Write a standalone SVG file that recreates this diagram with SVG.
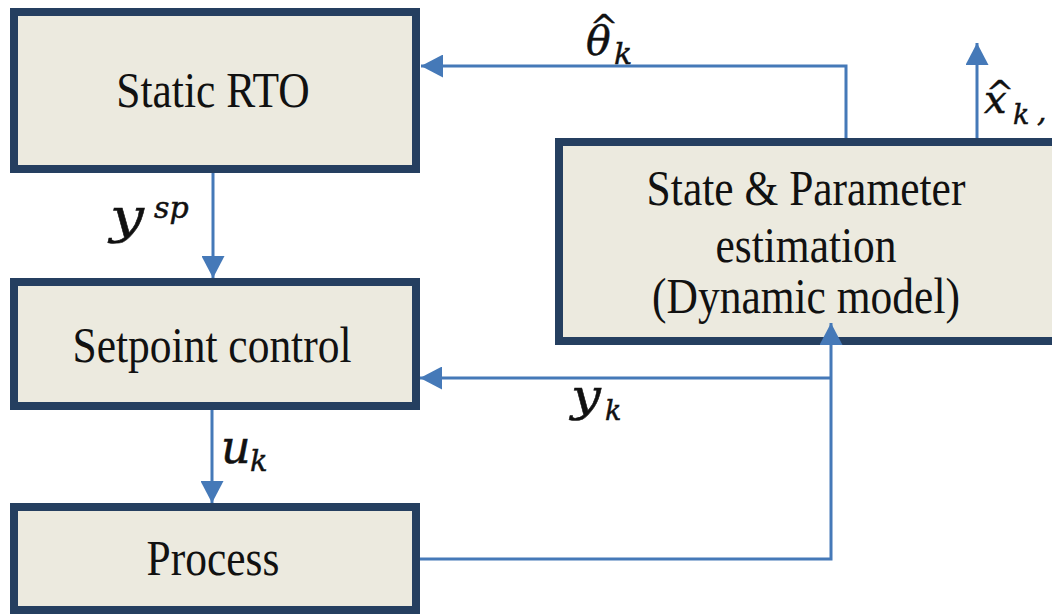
<svg xmlns="http://www.w3.org/2000/svg" width="1052" height="614" viewBox="0 0 1052 614">
<style>
.box{fill:#ECEADF;stroke:#253F60;stroke-width:8}
.lbl{font-family:"Liberation Serif","Times New Roman",serif;font-size:43.5px;fill:#111;text-anchor:middle}
.conn{fill:none;stroke:#4579B8;stroke-width:3}
.m{font-family:"DejaVu Serif","Liberation Serif",serif;font-style:italic;fill:#111;stroke:#111;stroke-width:0.5}
.hat{font-family:"DejaVu Serif","Liberation Serif",serif;fill:#111;text-anchor:middle;stroke:#111;stroke-width:0.4}
</style>
<defs>
<marker id="ah" markerUnits="userSpaceOnUse" markerWidth="22" markerHeight="23" refX="22" refY="11.5" orient="auto">
<path d="M0,0 L22,11.5 L0,23 z" fill="#4579B8"/>
</marker>
</defs>
<g id="static-rto">
<rect class="box" x="14" y="12" width="402" height="157"/>
<text class="lbl" transform="translate(213,107) scale(1,1.18)">Static RTO</text>
</g>
<g id="setpoint-control">
<rect class="box" x="14" y="282" width="402" height="124"/>
<text class="lbl" transform="translate(212,362) scale(1,1.18)">Setpoint control</text>
</g>
<g id="process">
<rect class="box" x="14" y="507" width="402" height="103"/>
<text class="lbl" transform="translate(213,575) scale(1,1.18)">Process</text>
</g>
<g id="estimation">
<rect class="box" x="559" y="142" width="497" height="199"/>
<text class="lbl" transform="translate(806,205) scale(1,1.18)">State &amp; Parameter</text>
<text class="lbl" transform="translate(806,262) scale(1,1.18)">estimation</text>
<text class="lbl" transform="translate(806,313) scale(1,1.18)">(Dynamic model)</text>
</g>
<g id="connectors">
<path class="conn" d="M846,138 V66 H421" marker-end="url(#ah)"/>
<path class="conn" d="M977,138 V43" marker-end="url(#ah)"/>
<path class="conn" d="M213,173 V278" marker-end="url(#ah)"/>
<path class="conn" d="M212,410 V503" marker-end="url(#ah)"/>
<path class="conn" d="M420,559 H831 V323" marker-end="url(#ah)"/>
<path class="conn" d="M831,378 H420" marker-end="url(#ah)"/>
</g>
<g id="labels">
<text class="hat" font-size="34" x="604" y="38">^</text>
<text class="m" font-size="41" x="586" y="55">θ</text>
<text class="m" font-size="30" x="614" y="64">k</text>
<text class="hat" font-size="34" x="1000" y="104">^</text>
<text class="m" font-size="40" x="984" y="113">x</text>
<text class="m" font-size="27" x="1013" y="124">k</text>
<text class="m" font-size="30" x="1037" y="121">,</text>
<text class="m" font-size="48" transform="translate(110,233) scale(1.25,1)">y</text>
<text class="m" font-size="30" x="154" y="218">sp</text>
<text class="m" font-size="44" transform="translate(571,411) scale(1.2,1)">y</text>
<text class="m" font-size="27" x="605" y="420">k</text>
<text class="m" font-size="46" x="221" y="463">u</text>
<text class="m" font-size="29" x="250" y="471">k</text>
</g>
</svg>
